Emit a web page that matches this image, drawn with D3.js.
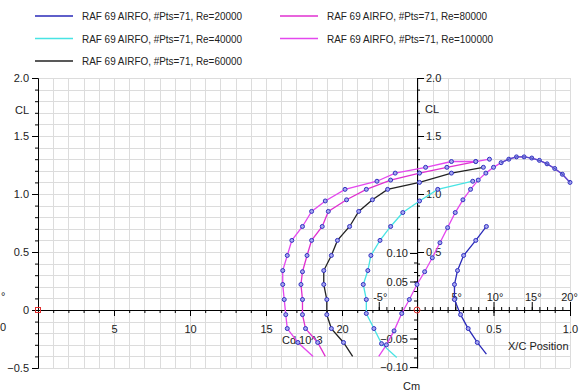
<!DOCTYPE html>
<html>
<head>
<meta charset="utf-8">
<script src="https://cdn.jsdelivr.net/npm/d3@7"></script>
<style>
  body { margin: 0; background: #fff; }
  text { font-family: "Liberation Sans", Arial, sans-serif; fill: #222; }
</style>
</head>
<body>
<script>
// polar data, Cd x 1000 vs CL, one list per Reynolds number
let re20Cd = [29.5, 28.9, 28.3, 27.8, 27.4, 27.4, 27.6, 28.0, 28.8, 29.5];
let re20Cl = [-0.38, -0.28, -0.16, -0.04, 0.09, 0.22, 0.34, 0.47, 0.60, 0.72];
let re40Cd = [23.6, 22.6, 22.1, 21.6, 21.6, 21.4, 21.7, 21.9, 22.5, 23.2, 24.0, 25.1, 26.3, 28.6];
let re40Cl = [-0.41, -0.29, -0.16, -0.03, 0.09, 0.22, 0.34, 0.47, 0.60, 0.72, 0.84, 0.94, 1.04, 1.11];
let re60Cd = [20.7, 20.1, 19.3, 19.0, 19.0, 18.8, 18.8, 19.3, 19.7, 20.5, 21.1, 22.0, 23.0, 25.1, 27.2, 29.3];
let re60Cl = [-0.40, -0.28, -0.16, -0.04, 0.09, 0.22, 0.34, 0.47, 0.60, 0.72, 0.85, 0.95, 1.04, 1.10, 1.18, 1.23];
let re80Cd = [18.9, 18.4, 17.6, 17.4, 17.4, 17.3, 17.4, 17.7, 18.0, 18.7, 19.1, 20.3, 21.6, 23.2, 25.1, 26.9, 28.8];
let re80Cl = [-0.40, -0.28, -0.16, -0.04, 0.09, 0.22, 0.33, 0.47, 0.60, 0.72, 0.85, 0.95, 1.04, 1.12, 1.18, 1.23, 1.28];
let re100Cd = [18.1, 17.1, 16.4, 16.3, 16.2, 16.1, 16.1, 16.4, 16.7, 17.4, 18.0, 18.9, 20.2, 22.3, 23.5, 25.5, 27.2, 28.8, 29.7];
let re100Cl = [-0.40, -0.28, -0.16, -0.04, 0.09, 0.22, 0.34, 0.47, 0.60, 0.72, 0.85, 0.94, 1.04, 1.11, 1.18, 1.23, 1.28, 1.28, 1.30];

// CL vs alpha (overlapping curves on the right)
let alphaDeg = [-5, -4, -3, -2, -1, 0, 1, 2, 3, 4, 5, 6, 7, 8, 9, 10, 11, 12, 13, 14, 15, 16, 17, 18, 19, 20];
let alphaCl = [-0.40, -0.30, -0.18, -0.03, 0.09, 0.22, 0.33, 0.45, 0.58, 0.71, 0.84, 0.95, 1.04, 1.12, 1.18, 1.23, 1.27, 1.30, 1.32, 1.32, 1.31, 1.29, 1.26, 1.22, 1.17, 1.10];

let seriesNames = ["RAF 69 AIRFO, #Pts=71, Re=20000", "RAF 69 AIRFO, #Pts=71, Re=40000",
    "RAF 69 AIRFO, #Pts=71, Re=60000", "RAF 69 AIRFO, #Pts=71, Re=80000",
    "RAF 69 AIRFO, #Pts=71, Re=100000"];
let seriesColors = ["#2a2ab8", "#48e4e4", "#222222", "#e030d0", "#e448ee"];

let clTicks = [-0.5, 0, 0.5, 1.0, 1.5, 2.0];
let cdTicks = [5, 10, 15, 20];
let alphaTicks = [-5, 5, 10, 15, 20];
let xtrTicks = [0.5, 1.0];
let cmTicks = [-0.10, -0.05, 0.05, 0.10];

let SvgWidth = 579;
let SvgHeight = 392;

let Svg = d3.select("body").append("svg")
    .attr("width", SvgWidth)
    .attr("height", SvgHeight)
    .style("display", "block");

let x = d3.scaleLinear().domain([0, 35]).range([38, 570]);
let y = d3.scaleLinear().domain([-0.5, 2]).range([368, 78]);
let xAlpha = d3.scaleLinear().domain([0, 20]).range([417, 570]);
let xTr = d3.scaleLinear().domain([0, 1]).range([417, 570]);
let yCm = d3.scaleLinear().domain([-0.1, 0.1]).range([367, 253]);

// grid
let grid = Svg.append("g").attr("stroke", "#dcdcdc").attr("stroke-width", 1);
grid.selectAll("line.v").data(d3.range(0, 36)).enter().append("line")
    .attr("x1", d => Math.round(x(d)) + 0.5).attr("x2", d => Math.round(x(d)) + 0.5)
    .attr("y1", y(2)).attr("y2", y(-0.5));
grid.selectAll("line.h").data(d3.range(-5, 21)).enter().append("line")
    .attr("x1", x(0)).attr("x2", x(35))
    .attr("y1", d => Math.round(y(d / 10)) + 0.5).attr("y2", d => Math.round(y(d / 10)) + 0.5);

function clean(g) {
    g.selectAll("text").attr("font-size", 11).attr("fill", "#222");
    g.selectAll("line,path").attr("stroke", "#000");
}

// left CL axis
Svg.append("g").attr("transform", "translate(38,0)")
    .call(d3.axisLeft(y).tickValues(d3.range(-5, 21).map(d => d / 10)).tickSize(3).tickSizeOuter(0).tickFormat(""))
    .call(clean);
Svg.append("g").attr("transform", "translate(38,0)")
    .call(d3.axisLeft(y).tickValues(clTicks).tickSize(6).tickSizeOuter(0)
        .tickFormat(d => d === 0 ? "0" : d3.format(".1f")(d)))
    .call(clean);

// bottom Cd axis
Svg.append("g").attr("transform", `translate(0,${y(0)})`)
    .call(d3.axisBottom(x).tickValues(d3.range(1, 25)).tickSize(3).tickSizeOuter(0).tickFormat(""))
    .call(clean);
Svg.append("g").attr("transform", `translate(0,${y(0)})`)
    .call(d3.axisBottom(x).tickValues(cdTicks).tickSize(6).tickSizeOuter(0).tickPadding(9))
    .call(clean)
    .call(g => g.select(".domain").remove());

// alpha axis (labels above)
Svg.append("g").attr("transform", `translate(0,${y(0)})`)
    .call(d3.axisTop(xAlpha).tickValues(d3.range(-5, 21)).tickSize(3).tickFormat(""))
    .call(clean)
    .call(g => g.select(".domain").remove());
Svg.append("g").attr("transform", `translate(0,${y(0)})`)
    .call(d3.axisTop(xAlpha).tickValues(alphaTicks).tickSize(8).tickPadding(1).tickFormat(d => d + "°"))
    .call(clean)
    .call(g => g.select(".domain").remove())
    .call(g => g.selectAll("text").attr("dx", d => d === 20 ? -1 : 1));

// X/C axis
Svg.append("g").attr("transform", `translate(0,${y(0)})`)
    .call(d3.axisBottom(xTr).tickValues(d3.range(1, 11).map(d => d / 10)).tickSize(3).tickFormat(""))
    .call(clean)
    .call(g => g.select(".domain").remove());
Svg.append("g").attr("transform", `translate(0,${y(0)})`)
    .call(d3.axisBottom(xTr).tickValues(xtrTicks).tickSize(6).tickPadding(9).tickFormat(d3.format(".1f")))
    .call(clean)
    .call(g => g.select(".domain").remove());

// right CL axis at X/C = 0
Svg.append("g").attr("transform", "translate(417,0)")
    .call(d3.axisRight(y).tickValues(d3.range(3, 21).map(d => d / 10)).tickSize(3).tickSizeOuter(0).tickFormat(""))
    .call(clean);
Svg.append("g").attr("transform", "translate(417,0)")
    .call(d3.axisRight(y).tickValues([0.5, 1.0, 1.5, 2.0]).tickSize(7).tickPadding(2).tickSizeOuter(0).tickFormat(d3.format(".1f")))
    .call(clean)
    .call(g => g.select(".domain").remove());

// Cm axis
Svg.append("g").attr("transform", "translate(417,0)")
    .call(d3.axisLeft(yCm).tickValues(d3.range(-6, 7).map(d => d / 60)).tickSize(3).tickFormat(""))
    .call(clean)
    .call(g => g.select(".domain").remove());
Svg.append("g").attr("transform", "translate(417,0)")
    .call(d3.axisLeft(yCm).tickValues(cmTicks).tickSize(7).tickPadding(2).tickFormat(d3.format(".2f")))
    .call(clean)
    .call(g => g.select(".domain").remove());

// titles
let titles = [["CL", 15, 114, "start"], ["CL", 425, 113, "start"], ["Cd.10^3", 282, 344, "start"],
    ["X/C Position", 508, 350, "start"], ["Cm", 403, 390, "start"], ["°", 1, 300, "start"], ["0", 0, 331, "start"]];
Svg.selectAll("text.title").data(titles).enter().append("text")
    .attr("class", "title")
    .attr("x", d => d[1]).attr("y", d => d[2])
    .attr("text-anchor", d => d[3])
    .attr("font-size", 11)
    .text(d => d[0]);

// origin markers
Svg.append("rect").attr("x", 35.5).attr("y", y(0) - 2.5).attr("width", 5).attr("height", 5)
    .attr("fill", "none").attr("stroke", "#e03030");
Svg.append("circle").attr("cx", 417).attr("cy", y(0)).attr("r", 3)
    .attr("fill", "none").attr("stroke", "#e03030");

// curves
let line = d3.line().x(d => d[0]).y(d => d[1]);
let polars = [[re20Cd, re20Cl], [re40Cd, re40Cl], [re60Cd, re60Cl], [re80Cd, re80Cl], [re100Cd, re100Cl]];

function drawCurve(pts, color) {
    Svg.append("path").attr("d", line(pts))
        .attr("fill", "none").attr("stroke", color).attr("stroke-width", 1.3);
    Svg.append("g").selectAll("circle").data(pts.slice(1)).enter().append("circle")
        .attr("cx", d => d[0]).attr("cy", d => d[1]).attr("r", 2)
        .attr("fill", "#a8a8f0").attr("stroke", "#3030c0").attr("stroke-width", 1);
}

polars.forEach(function (p, i) {
    let pts = p[0].map((cd, j) => [x(cd), y(p[1][j])]);
    drawCurve(pts, seriesColors[i]);
});

let alphaPts = alphaDeg.map((a, j) => [xAlpha(a), y(alphaCl[j])]);
drawCurve(alphaPts, seriesColors[4]);
Svg.append("path").attr("d", line(alphaPts.filter((d, j) => alphaDeg[j] >= 11)))
    .attr("fill", "none").attr("stroke", "#5050c8").attr("stroke-width", 1.3);

// legend
let legend = Svg.append("g");
seriesNames.forEach(function (name, i) {
    let col = i < 3 ? 0 : 1;
    let row = i < 3 ? i : i - 3;
    let lx = col === 0 ? 35 : 280;
    let ly = [16, 38.5, 61][row];
    legend.append("line")
        .attr("x1", lx).attr("x2", lx + 38).attr("y1", ly).attr("y2", ly)
        .attr("stroke", seriesColors[i]).attr("stroke-width", 1.4);
    legend.append("text")
        .attr("x", lx + 47).attr("y", ly + 4)
        .attr("font-size", 11)
        .attr("fill", "#333")
        .attr("textLength", name.length > 31 ? 166 : 160)
        .attr("lengthAdjust", "spacingAndGlyphs")
        .text(name);
});
</script>
</body>
</html>
